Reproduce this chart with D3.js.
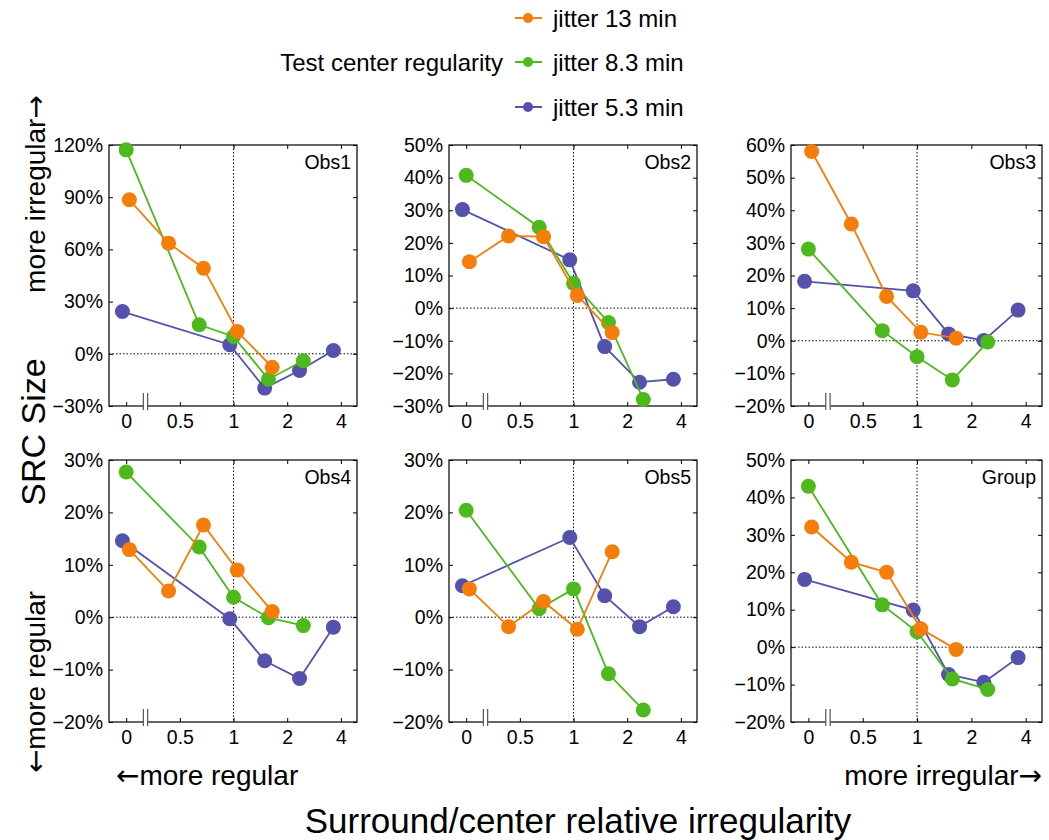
<!DOCTYPE html>
<meta charset="utf-8">
<style>
body { margin: 0; background: #fff; }
text { font-family: "Liberation Sans", Arial, Helvetica, sans-serif; fill: #000; }
.arrow { font-family: "DejaVu Sans", sans-serif; }
.dots { stroke: #000; stroke-width: 1; stroke-dasharray: 1.5,2; fill: none; }
.box { fill: none; stroke: #000; stroke-width: 1.2; }
</style>
<svg width="1049" height="840"></svg>
<script src="https://cdn.jsdelivr.net/npm/d3@7"></script>
<script>

// x axis: log2 of surround/center ratio, "0" is drawn past a break at -2
var tickPos = [-2, -1, 0, 1, 2];
var tickLabels = ["0", "0.5", "1", "2", "4"];

// x positions of each series (log2 units, slightly offset from each other)
var x13 = [-1.94, -1.21, -0.56, 0.07, 0.72];
var x83 = [-2.0, -0.64, 0.0, 0.65, 1.3];
var x53 = [-2.07, -0.07, 0.58, 1.23, 1.86];

var seriesNames = ["jitter 13 min", "jitter 8.3 min", "jitter 5.3 min"];
var seriesColors = ["#F57D0A", "#4DB91C", "#5452AC"];

var panelNames = ["Obs1", "Obs2", "Obs3", "Obs4", "Obs5", "Group"];
var yDomains = [[-30, 120], [-30, 50], [-20, 60], [-20, 30], [-20, 30], [-20, 50]];
var ySteps = [30, 10, 10, 10, 10, 10];

// values in % : [13 min, 8.3 min, 5.3 min]
var obs1_13 = [88.5, 63.6, 49.2, 12.8, -7.7];
var obs1_83 = [117.2, 16.7, 10.0, -14.6, -4.0];
var obs1_53 = [24.3, 5.2, -19.7, -9.6, 1.9];

var obs2_13 = [14.2, 22.1, 21.9, 3.9, -7.5];
var obs2_83 = [40.7, 24.8, 7.6, -4.4, -28.0];
var obs2_53 = [30.2, 14.8, -11.8, -22.7, -21.8];

var obs3_13 = [58.0, 35.8, 13.6, 2.6, 0.8];
var obs3_83 = [28.1, 3.1, -4.9, -12.0, -0.4];
var obs3_53 = [18.2, 15.3, 2.1, 0.1, 9.4];

var obs4_13 = [12.9, 5.0, 17.6, 9.0, 1.1];
var obs4_83 = [27.7, 13.4, 3.8, -0.1, -1.6];
var obs4_53 = [14.6, -0.3, -8.3, -11.7, -1.9];

var obs5_13 = [5.4, -1.8, 3.0, -2.3, 12.5];
var obs5_83 = [20.4, 1.6, 5.4, -10.8, -17.7];
var obs5_53 = [6.0, 15.2, 4.1, -1.8, 2.0];

var group_13 = [32.1, 22.7, 20.0, 4.9, -0.6];
var group_83 = [43.0, 11.3, 4.1, -8.5, -11.3];
var group_53 = [18.1, 9.9, -7.3, -9.4, -2.8];

var panelValues = [
  [obs1_13, obs1_83, obs1_53],
  [obs2_13, obs2_83, obs2_53],
  [obs3_13, obs3_83, obs3_53],
  [obs4_13, obs4_83, obs4_53],
  [obs5_13, obs5_83, obs5_53],
  [group_13, group_83, group_53]
];
var seriesX = [x13, x83, x53];

var svg = d3.select("svg");

var cols = [{x: 109, w: 248}, {x: 449, w: 248}, {x: 791, w: 251}];
var rows = [{y: 145, h: 261}, {y: 460, h: 262}];

function fmt(d) { return (d < 0 ? "\u2212" + (-d) : d) + "%"; }

panelNames.forEach(function(name, p) {
  var c = cols[p % 3], r = rows[Math.floor(p / 3)];
  var w = c.w, h = r.h;
  var x = d3.scaleLinear().domain([-2.32, 2.3]).range([0, w]);
  var y = d3.scaleLinear().domain(yDomains[p]).range([h, 0]);
  var yt = d3.range(yDomains[p][0], yDomains[p][1] + 0.1, ySteps[p]);

  var g = svg.append("g").attr("transform", "translate(" + c.x + "," + r.y + ")");

  g.append("g")
      .call(d3.axisLeft(y).tickValues(yt).tickFormat(fmt).tickSize(-4).tickPadding(6));
  g.append("g").attr("transform", "translate(" + w + ",0)")
      .call(d3.axisRight(y).tickValues(yt).tickFormat("").tickSize(-4));
  g.append("g").attr("transform", "translate(0," + h + ")")
      .call(d3.axisBottom(x).tickValues(tickPos)
        .tickFormat(function(d, i) { return tickLabels[i]; })
        .tickSize(-4).tickPadding(8));
  g.append("g")
      .call(d3.axisTop(x).tickValues(tickPos).tickFormat("").tickSize(-4));

  g.selectAll(".domain").remove();
  g.selectAll(".tick line").attr("stroke", "#000");
  g.selectAll(".tick text")
      .style("font-family", "'Liberation Sans', Arial, sans-serif")
      .style("font-size", "19.5px")
      .attr("fill", "#000");

  g.append("line").attr("class", "dots")
      .attr("x1", x(0)).attr("x2", x(0)).attr("y1", 0).attr("y2", h);
  g.append("line").attr("class", "dots")
      .attr("x1", 0).attr("x2", w).attr("y1", y(0)).attr("y2", y(0));

  g.append("rect").attr("class", "box").attr("width", w).attr("height", h);

  // axis break mark
  g.append("rect")
      .attr("x", x(-1.68)).attr("y", h - 2)
      .attr("width", x(-1.6) - x(-1.68)).attr("height", 4)
      .attr("fill", "#fff");
  [-1.68, -1.6].forEach(function(b) {
    g.append("line")
        .attr("x1", x(b)).attr("x2", x(b))
        .attr("y1", h - 13).attr("y2", h + 4)
        .attr("stroke", "#555").attr("stroke-width", 1.2);
  });

  // draw 5.3 first, 13 on top
  [2, 1, 0].forEach(function(s) {
    var pts = panelValues[p][s].map(function(v, i) { return [seriesX[s][i], v]; });
    g.append("path")
        .datum(pts)
        .attr("fill", "none")
        .attr("stroke", seriesColors[s])
        .attr("stroke-width", 1.8)
        .attr("d", d3.line().x(function(d) { return x(d[0]); }).y(function(d) { return y(d[1]); }));
    g.selectAll(null)
        .data(pts)
      .enter().append("circle")
        .attr("cx", function(d) { return x(d[0]); })
        .attr("cy", function(d) { return y(d[1]); })
        .attr("r", 7.5)
        .attr("fill", seriesColors[s]);
  });

  g.append("text")
      .attr("x", w - 6).attr("y", 24)
      .attr("text-anchor", "end")
      .style("font-size", "19.5px")
      .text(name);
});

// legend
var legY = [18, 62, 107];
svg.append("text")
    .attr("x", 503).attr("y", legY[1] + 9)
    .attr("text-anchor", "end")
    .style("font-size", "24px")
    .text("Test center regularity");
seriesNames.forEach(function(n, i) {
  svg.append("line")
      .attr("x1", 515).attr("x2", 542).attr("y1", legY[i]).attr("y2", legY[i])
      .attr("stroke", seriesColors[i]).attr("stroke-width", 2);
  svg.append("circle")
      .attr("cx", 528).attr("cy", legY[i]).attr("r", 5)
      .attr("fill", seriesColors[i]);
  svg.append("text")
      .attr("x", 553).attr("y", legY[i] + 9)
      .style("font-size", "24px")
      .text(n);
});

// label with an arrow glyph taken from DejaVu (longer arrows)
function arrowLabel(t, before, words, size) {
  var el = svg.append("text").attr("transform", t).style("font-size", size + "px");
  if (before) el.append("tspan").attr("class", "arrow").text("\u2190");
  el.append("tspan").text(words);
  if (!before) el.append("tspan").attr("class", "arrow").text("\u2192");
  return el;
}

// y label
svg.append("text")
    .attr("transform", "translate(45,432) rotate(-90)")
    .attr("text-anchor", "middle")
    .style("font-size", "34px")
    .text("SRC Size");
arrowLabel("translate(45,194) rotate(-90)", false, "more irregular", 28)
    .attr("text-anchor", "middle");
arrowLabel("translate(45,682) rotate(-90)", true, "more regular", 28)
    .attr("text-anchor", "middle");

// x labels
arrowLabel("translate(116,785)", true, "more regular", 28);
arrowLabel("translate(1042,785)", false, "more irregular", 28)
    .attr("text-anchor", "end");
svg.append("text")
    .attr("x", 578).attr("y", 833)
    .attr("text-anchor", "middle")
    .style("font-size", "35px")
    .text("Surround/center relative irregularity");

</script>
